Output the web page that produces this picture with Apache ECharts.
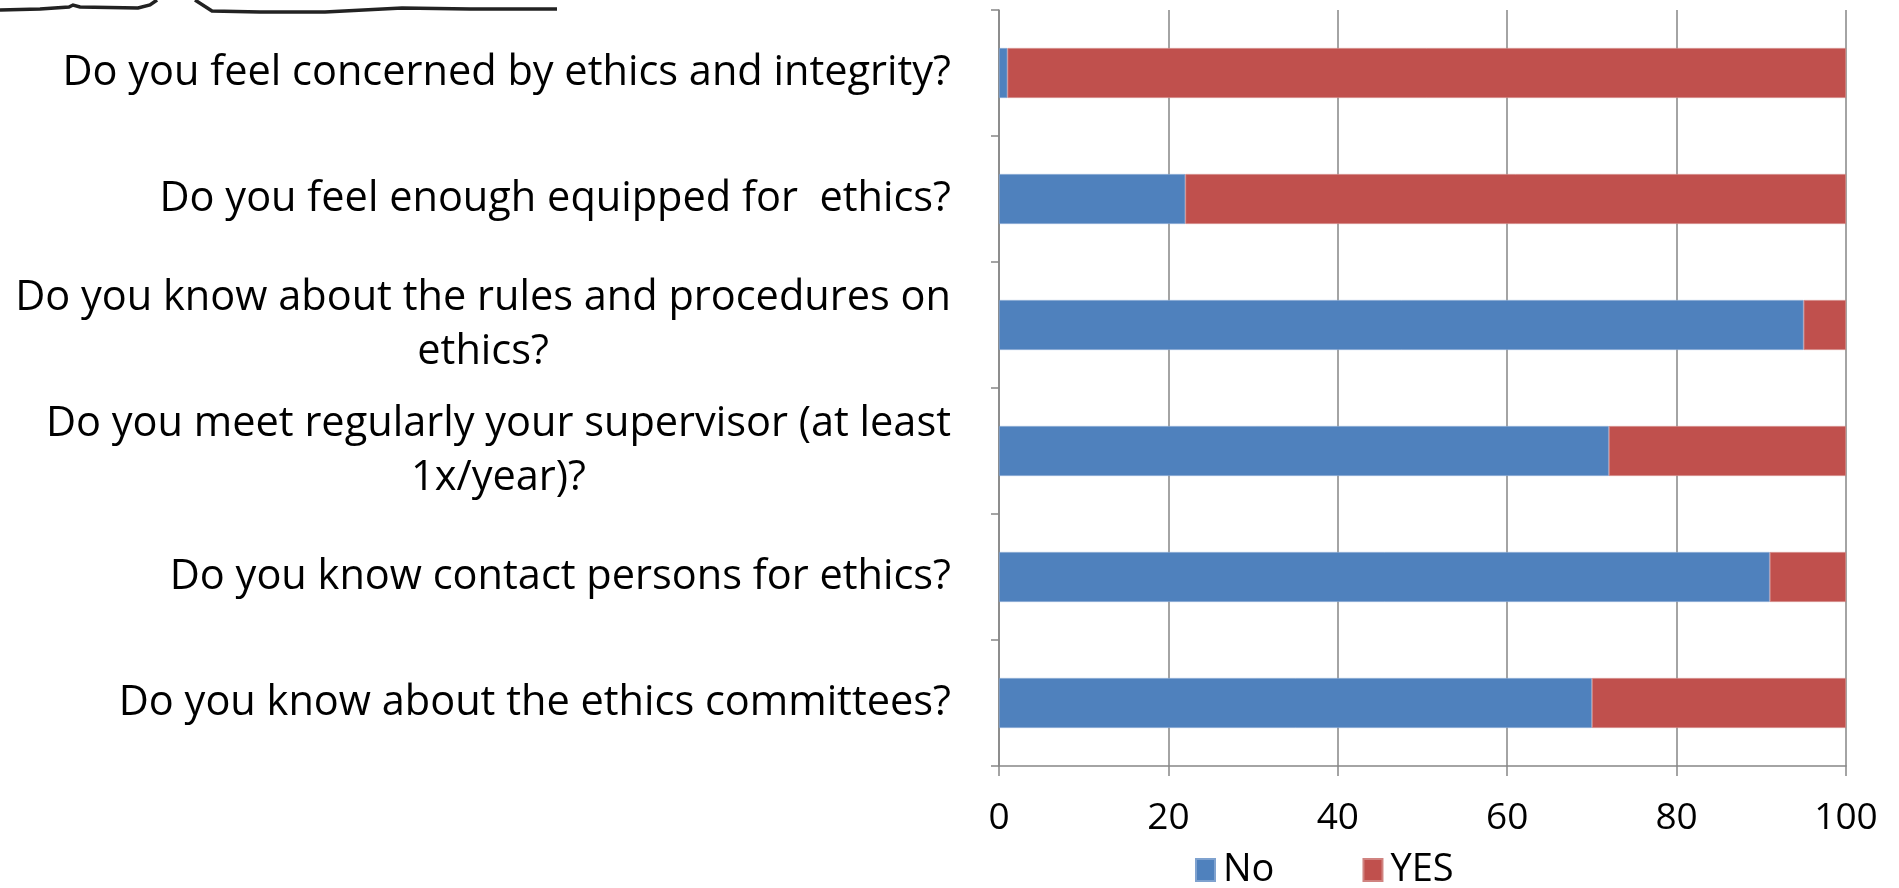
<!DOCTYPE html>
<html><head><meta charset="utf-8">
<script src="https://cdn.jsdelivr.net/npm/echarts@6/dist/echarts.min.js"></script>
<style>html,body{margin:0;padding:0;background:#fff}#c{width:1899px;height:888px}</style>
</head><body><div id="c"></div>
<script>
const categories = [
  ["Do you feel concerned by ethics and integrity?"],
  ["Do you feel enough equipped for  ethics?"],
  ["Do you know about the rules and procedures on", "ethics?"],
  ["Do you meet regularly your supervisor (at least", "1x/year)?"],
  ["Do you know contact persons for ethics?"],
  ["Do you know about the ethics committees?"]
];
const noValues = [1, 22, 95, 72, 91, 70];
const yesValues = [99, 78, 5, 28, 9, 30];
const xTicks = [0, 20, 40, 60, 80, 100];
const seriesNames = ["No", "YES"];

const FONT = "Open Sans";
const chart = echarts.init(document.getElementById('c'), null, {renderer: 'canvas'});
const catKeys = categories.map(c => c.join('\n'));
chart.setOption({
  animation: false,
  backgroundColor: '#fff',
  textStyle: {fontFamily: FONT},
  grid: {left: 999, right: 53, top: 10, bottom: 122, containLabel: false},
  legend: {
    data: seriesNames,
    left: 1190, top: 846,
    itemWidth: 19, itemHeight: 22, itemGap: 88,
    icon: 'rect',
    textStyle: {fontFamily: FONT, fontSize: 38, color: '#000', padding: [0, 0, 0, 3]}
  },
  xAxis: {
    type: 'value', min: xTicks[0], max: xTicks[xTicks.length - 1], interval: xTicks[1] - xTicks[0],
    axisLine: {show: true, lineStyle: {color: '#868686', width: 1.5}},
    axisTick: {show: true, length: 10, lineStyle: {color: '#868686', width: 1.5}},
    splitLine: {show: true, lineStyle: {color: '#868686', width: 1.5}},
    axisLabel: {fontFamily: FONT, fontSize: 37, color: '#000', margin: 34}
  },
  yAxis: {
    type: 'category', inverse: true, data: catKeys,
    axisLine: {show: true, lineStyle: {color: '#868686', width: 1.5}},
    axisTick: {show: true, length: 8, lineStyle: {color: '#868686', width: 1.5}},
    splitLine: {show: false},
    axisLabel: {
      fontFamily: FONT, fontSize: 41.5, color: '#000', margin: 48, align: 'right',
      lineHeight: 54,
      formatter: v => v.split('\n').map(l => '{c|' + l + '}').join('\n'),
      rich: {c: {align: 'center', fontFamily: FONT, fontSize: 41.5, lineHeight: 54, color: '#000'}}
    }
  },
  series: [
    {name: seriesNames[0], type: 'bar', stack: 'total', data: noValues, barWidth: 50,
     itemStyle: {color: '#4F81BD', borderColor: '#7FA2CF', borderWidth: 0.8}},
    {name: seriesNames[1], type: 'bar', stack: 'total', data: yesValues, barWidth: 50,
     itemStyle: {color: '#C0504D', borderColor: '#D08380', borderWidth: 0.8}}
  ],
  graphic: [{
    type: 'polyline', silent: true,
    shape: {points: [[0,10],[40,9],[69,7],[73,5],[80,7],[138,8],[150,5],[157,0]]},
    style: {stroke: '#222', lineWidth: 3.5, fill: null}
  }, {
    type: 'polyline', silent: true,
    shape: {points: [[195,0],[212,11],[260,12],[325,12],[402,8],[470,9],[557,9]]},
    style: {stroke: '#222', lineWidth: 3.5, fill: null}
  }]
});
</script></body></html>
